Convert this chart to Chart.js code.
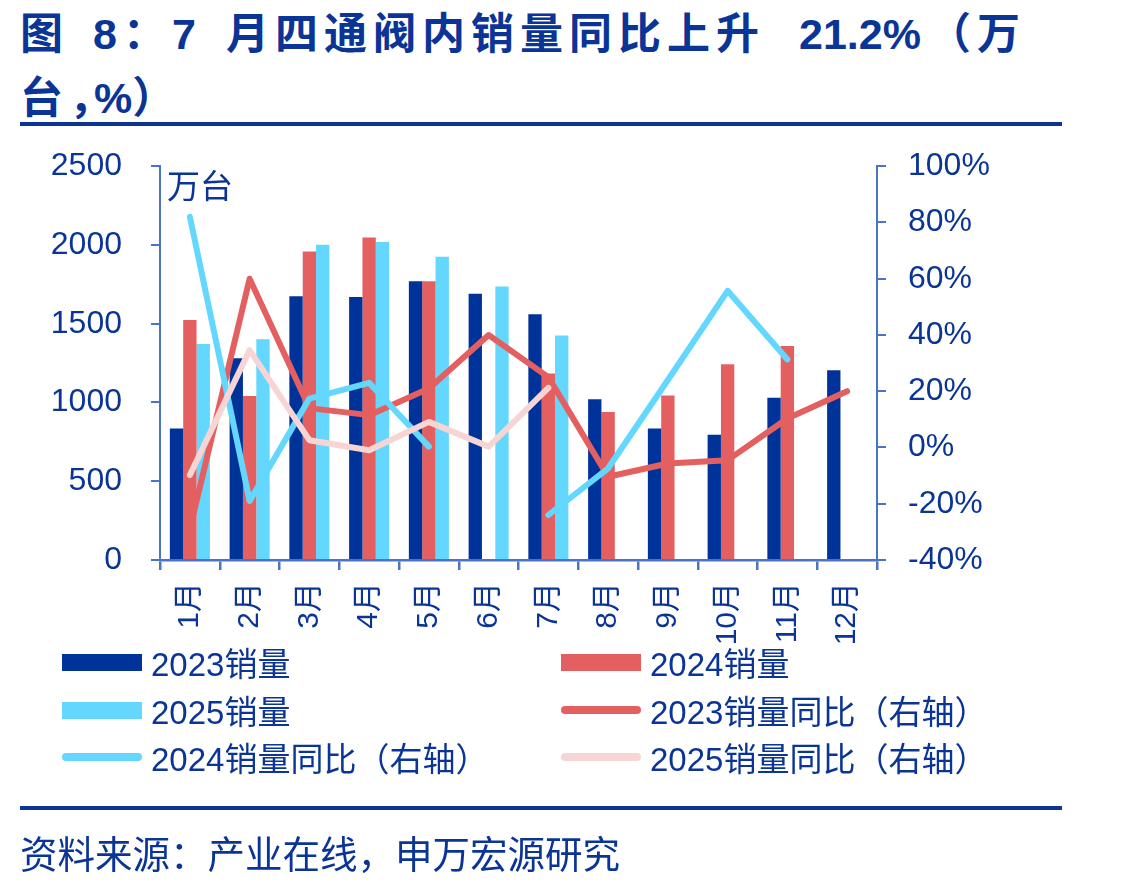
<!DOCTYPE html>
<html>
<head>
<meta charset="utf-8">
<script src="https://cdn.jsdelivr.net/npm/chart.js@4.4.1/dist/chart.umd.min.js"></script>
<style>
  html, body { margin:0; padding:0; background:#fff; }
  body { width:1124px; height:884px; position:relative; overflow:hidden;
         font-family:"Liberation Sans", Arial, "Noto Sans CJK SC", sans-serif; color:#0A3597; }
  #title { position:absolute; left:0; top:0; width:1124px; height:120px; font-weight:bold; font-size:43px;
           color:#0A3597; font-family:"Liberation Sans", Arial, "Noto Sans CJK SC", sans-serif; }
  #title span { position:absolute; white-space:nowrap; line-height:64px; letter-spacing:6px; }
  #title span.n { letter-spacing:0; }
  #rule1 { position:absolute; left:20px; top:122px; width:1042px; height:4px; background:#0A3597; }
  #rule2 { position:absolute; left:20px; top:806px; width:1042px; height:4px; background:#0A3597; }
  #source { position:absolute; left:20px; top:828px; font-size:37.5px; line-height:48px; white-space:nowrap;
            font-family:"Noto Sans CJK SC", sans-serif; }
  #unit { position:absolute; left:167px; top:164px; font-size:33px; line-height:40px;
          font-family:"Noto Sans CJK SC", sans-serif; }
  #wrap { position:absolute; left:0; top:118px; width:1124px; height:542px; }
  #legend { position:absolute; left:0; top:0; width:1124px; height:884px; pointer-events:none; }
  .li { position:absolute; height:40px; display:flex; align-items:center; white-space:nowrap; font-size:33px; }
  .sw { display:inline-block; width:80px; margin-right:9px; }
</style>
</head>
<body>
<div id="title">
  <span style="left:20px;top:2px">图</span>
  <span style="left:93px;top:2px">8：7</span>
  <span style="left:226px;top:2px">月四通阀内销量同比上升</span>
  <span class="n" style="left:799px;top:2px">21.2%</span>
  <span style="left:928px;top:2px">（万</span>
  <span style="left:20px;top:66px">台，</span>
  <span class="n" style="left:94px;top:66px">%）</span>
</div>
<div id="rule1"></div>
<div id="wrap"><canvas id="c"></canvas></div>
<div id="unit">万台</div>
<div id="legend"></div>
<div id="rule2"></div>
<div id="source">资料来源：产业在线，申万宏源研究</div>
<script>
// ---- data ----
const months = ['1月','2月','3月','4月','5月','6月','7月','8月','9月','10月','11月','12月'];
const sales2023 = [835, 1280, 1675, 1670, 1770, 1690, 1560, 1020, 835, 795, 1030, 1205];
const sales2024 = [1523, 1041, 1958, 2047, 1770, null, 1184, 939, 1045, 1243, 1358, null];
const sales2025 = [1371, 1402, 2001, 2018, 1925, 1736, 1426, null, null, null, null, null];
const yoy2023 = [-29, 60, 14, 11.5, 21, 40, 25, -10.4, -5.7, -4.5, 10.3, 20];
const yoy2024 = [82, -19, 17.4, 23, 0.3, null, -24, -7.4, 24, 55.7, 31.3, null];
const yoy2025 = [-9.8, 34.6, 2.6, -1, 9.1, 0.3, 21.2, null, null, null, null, null];
const leftTicks = [0, 500, 1000, 1500, 2000, 2500];
const rightTicks = [-40, -20, 0, 20, 40, 60, 80, 100];
const seriesNames = ['2023销量','2024销量','2025销量','2023销量同比（右轴）','2024销量同比（右轴）','2025销量同比（右轴）'];

const C_DARK = '#00339A', C_RED = '#E46060', C_CYAN = '#63D7FE', C_PINK = '#F8D5D5';
const AXIS = '#4A74C6', TXT = '#0A3597';
const FONT = '"Liberation Sans", Arial, "Noto Sans CJK SC", sans-serif';

const lineBase = { type:'line', yAxisID:'y1', borderWidth:6, pointRadius:0, pointHoverRadius:0,
  tension:0, borderCapStyle:'round', borderJoinStyle:'round', spanGaps:false, fill:false };

new Chart(document.getElementById('c'), {
  type:'bar',
  data:{
    labels: months,
    datasets:[
      { label:seriesNames[0], data:sales2023, backgroundColor:C_DARK, yAxisID:'y', order:10 },
      { label:seriesNames[1], data:sales2024, backgroundColor:C_RED, yAxisID:'y', order:11 },
      { label:seriesNames[2], data:sales2025, backgroundColor:C_CYAN, yAxisID:'y', order:12 },
      Object.assign({ label:seriesNames[3], data:yoy2023, borderColor:C_RED, backgroundColor:C_RED, order:3 }, lineBase),
      Object.assign({ label:seriesNames[4], data:yoy2024, borderColor:C_CYAN, backgroundColor:C_CYAN, order:2 }, lineBase),
      Object.assign({ label:seriesNames[5], data:yoy2025, borderColor:C_PINK, backgroundColor:C_PINK, order:1 }, lineBase)
    ]
  },
  options:{
    responsive:true, maintainAspectRatio:false, animation:false,
    layout:{ padding:{ top:30, left:0, right:0, bottom:0 } },
    datasets:{ bar:{ categoryPercentage:0.67, barPercentage:1.0 } },
    plugins:{ legend:{ display:false }, tooltip:{ enabled:false }, title:{ display:false } },
    scales:{
      x:{
        grid:{ display:true, drawOnChartArea:false, drawTicks:true, tickLength:10, color:AXIS, lineWidth:2.5, offset:true },
        border:{ display:true, color:AXIS, width:2.5 },
        ticks:{ color:TXT, font:{ family:FONT, size:30 }, minRotation:90, maxRotation:90, autoSkip:false, padding:12 },
        afterFit:(s)=>{ s.height = 100; }
      },
      y:{
        position:'left', min:0, max:2500,
        afterBuildTicks:(s)=>{ s.ticks = leftTicks.map(v=>({value:v})); },
        grid:{ display:true, drawOnChartArea:false, drawTicks:true, tickLength:9, color:AXIS, lineWidth:2 },
        border:{ display:true, color:AXIS, width:2 },
        ticks:{ color:TXT, font:{ family:FONT, size:32 }, padding:29, callback:(v)=>String(v) },
        afterFit:(s)=>{ s.width = 160; }
      },
      y1:{
        position:'right', min:-40, max:100,
        afterBuildTicks:(s)=>{ s.ticks = rightTicks.map(v=>({value:v})); },
        grid:{ display:true, drawOnChartArea:false, drawTicks:true, tickLength:9, color:AXIS, lineWidth:2 },
        border:{ display:true, color:AXIS, width:2 },
        ticks:{ color:TXT, font:{ family:FONT, size:32 }, padding:22, callback:(v)=>v+'%' },
        afterFit:(s)=>{ s.width = 247; }
      }
    }
  }
});

// ---- HTML legend ----
const legendItems = [
  { name:seriesNames[0], kind:'bar', color:C_DARK, x:62, y:662 },
  { name:seriesNames[1], kind:'bar', color:C_RED, x:561, y:662 },
  { name:seriesNames[2], kind:'bar', color:C_CYAN, x:62, y:710 },
  { name:seriesNames[3], kind:'line', color:C_RED, x:561, y:710 },
  { name:seriesNames[4], kind:'line', color:C_CYAN, x:62, y:757 },
  { name:seriesNames[5], kind:'line', color:C_PINK, x:561, y:757 }
];
const lg = document.getElementById('legend');
legendItems.forEach(it=>{
  const d = document.createElement('div');
  d.className = 'li';
  d.style.left = it.x + 'px';
  d.style.top = (it.y - 20) + 'px';
  const sw = document.createElement('span');
  sw.className = 'sw';
  if (it.kind === 'bar') { sw.style.height = '17px'; sw.style.background = it.color; }
  else { sw.style.height = '8px'; sw.style.background = it.color; sw.style.borderRadius = '4px'; }
  const t = document.createElement('span');
  t.textContent = it.name;
  d.appendChild(sw); d.appendChild(t);
  lg.appendChild(d);
});
</script>
</body>
</html>
